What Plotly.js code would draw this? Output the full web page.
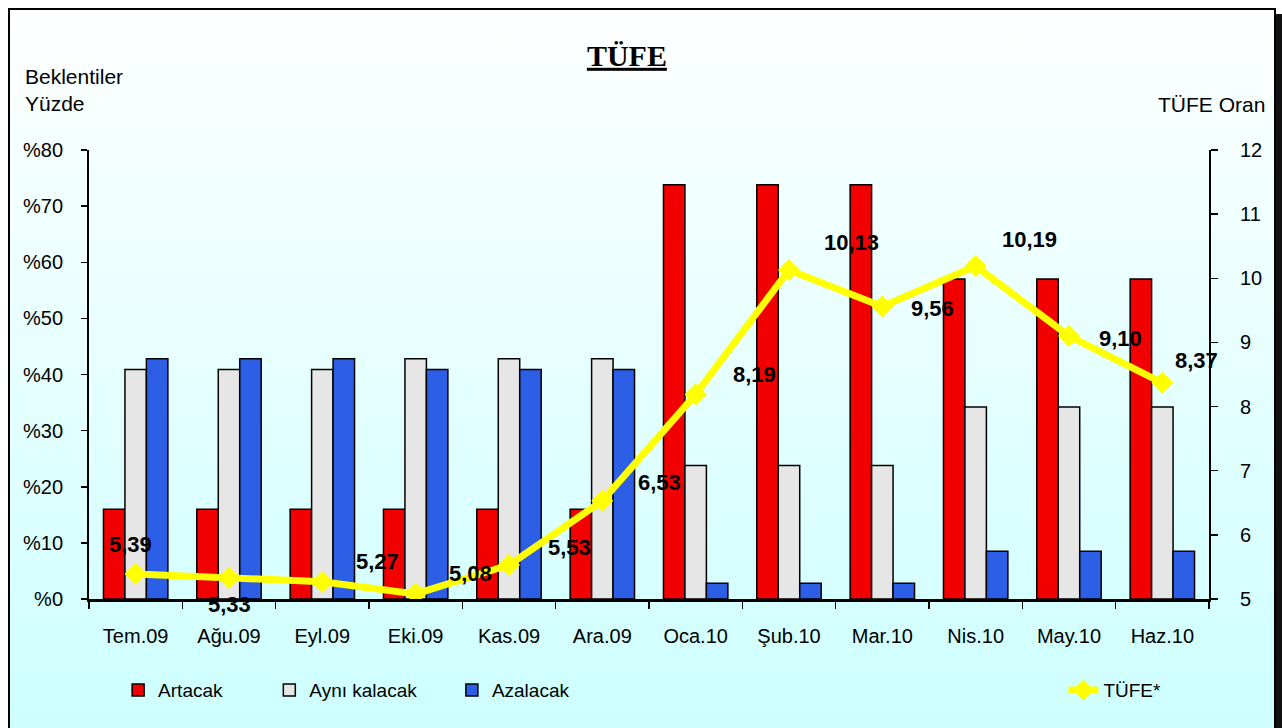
<!DOCTYPE html>
<html>
<head>
<meta charset="utf-8">
<script src="https://cdn.plot.ly/plotly-3.0.1.min.js"></script>
<style>
  html, body { margin: 0; padding: 0; width: 1282px; height: 728px; overflow: hidden; background: #ffffff; }
  #frame {
    position: absolute; left: 8px; top: 8px; width: 1264px; height: 740px;
    border: 2px solid #000; box-shadow: 6px 6px 0 #111;
    background: linear-gradient(to bottom, #ffffff 0%, #f2ffff 25%, #ccffff 100%);
  }
  #chart { position: absolute; left: 0; top: 0; width: 1282px; height: 728px; }
</style>
</head>
<body>
<div id="frame"></div>
<div id="chart"></div>
<script>
const categories = ["Tem.09","Ağu.09","Eyl.09","Eki.09","Kas.09","Ara.09","Oca.10","Şub.10","Mar.10","Nis.10","May.10","Haz.10"];
const artacak  = [16.0,16.0,16.0,16.0,16.0,16.0,73.8,73.8,73.8,57.0,57.0,57.0];
const ayniKalacak = [40.9,40.9,40.9,42.8,42.8,42.8,23.8,23.8,23.8,34.2,34.2,34.2];
const azalacak = [42.8,42.8,42.8,40.9,40.9,40.9,2.8,2.8,2.8,8.5,8.5,8.5];
const tufe = [5.39,5.33,5.27,5.08,5.53,6.53,8.19,10.13,9.56,10.19,9.10,8.37];
const leftTickVals = [0,10,20,30,40,50,60,70,80];
const leftTickText = ["%0","%10","%20","%30","%40","%50","%60","%70","%80"];
const rightTickVals = [5,6,7,8,9,10,11,12];
const seriesNames = ["Artacak","Aynı kalacak","Azalacak","TÜFE*"];

// label pixel offsets (style only)
const labelShift = [[-5,29],[0,-27],[55,20],[55,20],[60,18],[57,18],[59,20],[62,27],[50,-2],[54,27],[51,-2],[34,22]];

const FONT = "Liberation Sans, Arial, sans-serif";

const barLine = {color: "#000000", width: 1.5};
const traces = [
  {type: "bar", name: seriesNames[0], x: categories, y: artacak, yaxis: "y",
   marker: {color: "#f20000", line: barLine}, legend: "legend"},
  {type: "bar", name: seriesNames[1], x: categories, y: ayniKalacak, yaxis: "y",
   marker: {color: "#e6e6e6", line: barLine}, legend: "legend2"},
  {type: "bar", name: seriesNames[2], x: categories, y: azalacak, yaxis: "y",
   marker: {color: "#2d5ee6", line: barLine}, legend: "legend3"},
  {type: "scatter", mode: "lines+markers", name: seriesNames[3], x: categories, y: tufe, yaxis: "y2",
   line: {color: "#ffff00", width: 7}, marker: {symbol: "diamond", size: 17, color: "#ffff00"},
   legend: "legend4"}
];

const annotations = tufe.map((v, i) => ({
  xref: "x", yref: "y2", x: categories[i], y: v,
  text: v.toFixed(2).replace(".", ","), showarrow: false,
  xshift: labelShift[i][0], yshift: labelShift[i][1],
  font: {family: FONT, size: 22, color: "#000", weight: "bold"}
}));
annotations.push({
  xref: "paper", yref: "paper", x: -0.0589, y: 1.1347, xanchor: "left", yanchor: "middle", align: "left",
  text: "Beklentiler<br>Yüzde", showarrow: false, font: {family: FONT, size: 21, color: "#000"}
});
annotations.push({
  xref: "paper", yref: "paper", x: 1.0518, y: 1.1024, xanchor: "right", yanchor: "middle",
  text: "TÜFE Oran", showarrow: false, font: {family: FONT, size: 21, color: "#000"}
});

const legendBase = {orientation: "h", yanchor: "middle", y: -0.203, xanchor: "left",
  bgcolor: "rgba(0,0,0,0)", font: {family: FONT, size: 19, color: "#000"}};

const layout = {
  width: 1282, height: 728,
  paper_bgcolor: "rgba(0,0,0,0)", plot_bgcolor: "rgba(0,0,0,0)",
  margin: {l: 89, r: 73, t: 150, b: 129, autoexpand: false},
  title: {text: "<u>TÜFE</u>", x: 0.489, xanchor: "center", y: 0.924, yref: "container", yanchor: "middle",
          font: {family: "Liberation Serif, Times New Roman, serif", size: 30, color: "#000", weight: "bold"}},
  barmode: "group", bargap: 0.31, bargroupgap: 0,
  xaxis: {type: "category", range: [-0.5, 11.5], autorange: false,
          showline: true, linecolor: "#000", linewidth: 3, automargin: false,
          ticks: "outside", ticklen: 7, tickwidth: 1.5, tickcolor: "#000", tickson: "boundaries",
          tickfont: {family: FONT, size: 20, color: "#000"}, ticklabelstandoff: 17,
          showgrid: false, zeroline: false, fixedrange: true},
  yaxis: {range: [0, 80], tickvals: leftTickVals, ticktext: leftTickText, automargin: false,
          showline: true, linecolor: "#000", linewidth: 2, ticks: "outside", ticklen: 6, tickwidth: 1.5, tickcolor: "#000",
          tickfont: {family: FONT, size: 20, color: "#000"}, ticklabelstandoff: 14,
          showgrid: false, zeroline: false},
  yaxis2: {range: [5, 12], tickvals: rightTickVals, overlaying: "y", side: "right", automargin: false,
           showline: true, linecolor: "#000", linewidth: 2, ticks: "outside", ticklen: 7, tickwidth: 1.5, tickcolor: "#000",
           tickfont: {family: FONT, size: 20, color: "#000"}, ticklabelstandoff: 18,
           showgrid: false, zeroline: false},
  legend:  Object.assign({}, legendBase, {x: 0.026}),
  legend2: Object.assign({}, legendBase, {x: 0.161}),
  legend3: Object.assign({}, legendBase, {x: 0.324}),
  legend4: Object.assign({}, legendBase, {x: 0.870}),
  annotations: annotations,
  showlegend: true
};

Plotly.newPlot("chart", traces, layout, {displayModeBar: false, staticPlot: true});
</script>
</body>
</html>
